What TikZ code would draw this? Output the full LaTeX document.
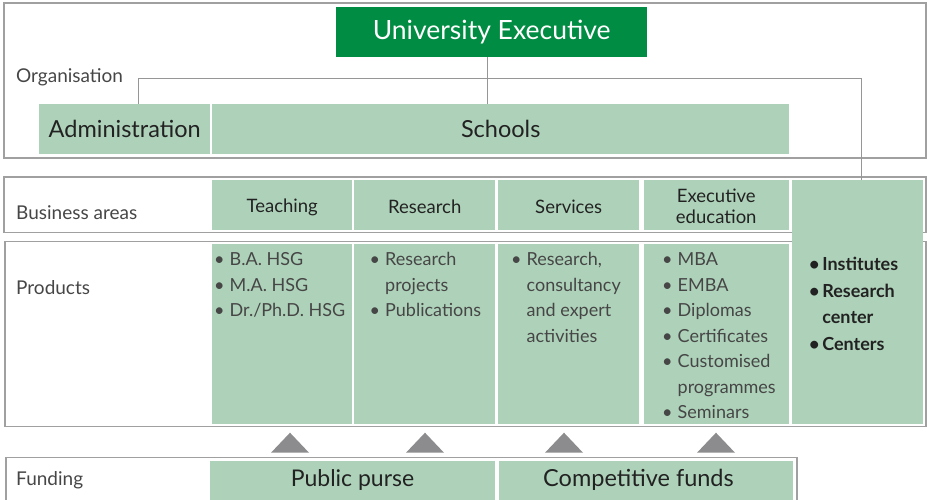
\documentclass[tikz,border=0pt]{standalone}
\usepackage{fontspec}
\setmainfont{Lato}
\definecolor{uegreen}{RGB}{0,140,66}
\definecolor{lightgreen}{RGB}{174,210,185}
\definecolor{framegray}{RGB}{160,160,160}
\definecolor{conngray}{RGB}{150,150,150}
\definecolor{trigray}{RGB}{140,140,142}
\definecolor{txtdark}{RGB}{34,34,34}
\definecolor{txtlight}{RGB}{70,70,70}
\tikzset{
  frame/.style={draw=framegray, line width=1.2pt},
  cell/.style={fill=lightgreen, inner sep=0pt, anchor=north west, text=txtdark},
  conn/.style={draw=conngray, line width=1pt},
  rowlabel/.style={anchor=west, inner sep=0pt, text=txtlight, font=\fontsize{19}{22}\selectfont},
  head/.style={font=\fontsize{18.5}{21}\selectfont, text=txtdark, align=center},
  prod/.style={anchor=north west, inner sep=0pt, align=left, text=txtlight, font=\fontsize{18}{25.5}\selectfont},
  tri/.style={fill=trigray, draw=none}
}
\newcommand{\bl}{\textbullet\hspace{0.28em}}
\newcommand{\bi}{\phantom{\textbullet}\hspace{0.28em}}
\newcommand{\bb}{\textbullet\hspace{0.15em}}
\newcommand{\bbi}{\phantom{\textbullet}\hspace{0.15em}}
\begin{document}
\begin{tikzpicture}[x=1pt,y=-1pt]
\useasboundingbox (0,0) rectangle (929,499);
% frames
\draw[frame] (4,3) rectangle (926,158);
\draw[frame] (4,177) rectangle (926,232.5);
\draw[frame] (5,241.5) rectangle (926,426.5);
\draw[frame] (6,457.5) rectangle (797,520);
% organisation
\node[cell, fill=uegreen, minimum width=311pt, minimum height=50pt] (ue) at (336,7) {};
\node[text=white, font=\fontsize{26.5}{30}\selectfont] (uet) at (ue.center) {University Executive};
\node[cell, minimum width=171pt, minimum height=50pt] (admin) at (39,104) {};
\node[font=\fontsize{23.5}{26}\selectfont, text=txtdark] (admint) at (admin.center) {Administration};
\node[cell, minimum width=577pt, minimum height=50pt] (schools) at (212,104) {};
\node[font=\fontsize{23.5}{26}\selectfont, text=txtdark] (schoolst) at (schools.center) {Schools};
\node[rowlabel] (orglab) at (16,77) {Organisation};
% business areas
\node[rowlabel] (balab) at (16,213) {Business areas};
\node[cell, minimum width=140pt, minimum height=50pt] (teach) at (212,180) {};
\node[cell, minimum width=141pt, minimum height=50pt] (res) at (354,180) {};
\node[cell, minimum width=141pt, minimum height=50pt] (serv) at (498,180) {};
\node[cell, minimum width=144.5pt, minimum height=50pt] (exec) at (643.8,180) {};
\node[cell, minimum width=131pt, minimum height=243.5pt] (inst) at (792,180) {};
\node[head] (teacht) at ([yshift=-2pt]teach.center) {Teaching};
\node[head] (rest) at ([yshift=-2pt]res.center) {Research};
\node[head] (servt) at ([yshift=-2pt]serv.center) {Services};
\node[head] (exect) at ([yshift=-1pt]exec.center) {Executive\\education};
% products
\node[rowlabel] (prodlab) at (16,288) {Products};
\node[cell, minimum width=140pt, minimum height=180pt] (pteach) at (212,244) {};
\node[cell, minimum width=141pt, minimum height=180pt] (pres) at (354,244) {};
\node[cell, minimum width=141pt, minimum height=180pt] (pserv) at (498,244) {};
\node[cell, minimum width=144.5pt, minimum height=180pt] (pexec) at (643.8,244) {};
\node[prod] (pteacht) at (214,252.5) {\bl B.A. HSG\\\bl M.A. HSG\\\bl Dr./Ph.D. HSG};
\node[prod] (prest) at (369.5,252.5) {\bl Research\\\bi projects\\\bl Publications};
\node[prod] (pservt) at (511,252.5) {\bl Research,\\\bi consultancy\\\bi and expert\\\bi activities};
\node[prod] (pexect) at (662,252.5) {\bl MBA\\\bl EMBA\\\bl Diplomas\\\bl Certificates\\\bl Customised\\\bi programmes\\\bl Seminars};
\node[prod, text=txtdark, font=\fontsize{18}{26.5}\selectfont\bfseries] (instt) at (809,257) {\bb Institutes\\\bb Research\\\bbi center\\\bb Centers};
% funding
\node[rowlabel] (fundlab) at (16,480) {Funding};
\node[cell, minimum width=285pt, minimum height=45pt] (pub) at (210,460.7) {};
\node[cell, minimum width=294pt, minimum height=45pt] (comp) at (499,460.7) {};
\node[font=\fontsize{23}{26}\selectfont, text=txtdark] (pubt) at (352.5,480) {Public purse};
\node[font=\fontsize{23.5}{26}\selectfont, text=txtdark] (compt) at (638.5,480) {Competitive funds};
% triangles
\foreach \cx in {290,425,564,716}{
  \fill[tri] (\cx-19,452.7) -- (\cx,432.7) -- (\cx+19,452.7) -- cycle;
}
% connectors
\draw[conn] ([xshift=-4.2pt]ue.south) -- ([xshift=-4.2pt]ue.south |- schools.north);
\draw[conn] ([xshift=13.5pt]admin.north) -- ++(0,-25.3) -| ([xshift=4.2pt]inst.north);
\end{tikzpicture}
\end{document}
